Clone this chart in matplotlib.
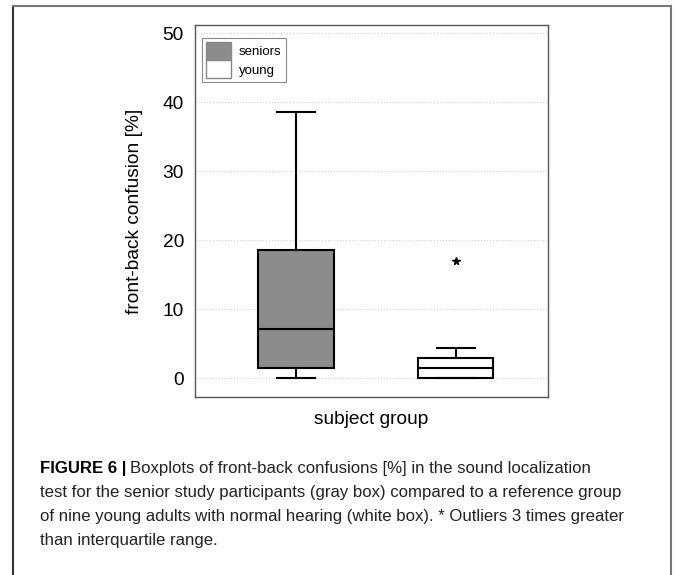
import matplotlib
matplotlib.use("Agg")
import matplotlib.pyplot as plt
from matplotlib.lines import Line2D
from matplotlib.patches import Patch

# Valores (confusiones delante-detras en %)
grupos = ["seniors", "young"]
minimo = [0.0, 0.0]
q1 = [1.5, 0.0]
mediana = [7.15, 1.45]
q3 = [18.55, 2.95]
maximo = [38.6, 4.35]
atipicos = [[], [17.0]]
colores = ["#8c8c8c", "white"]

yticks = [0, 10, 20, 30, 40, 50]
caption_lines = [
    "Boxplots of front-back confusions [%] in the sound localization",
    "test for the senior study participants (gray box) compared to a reference group",
    "of nine young adults with normal hearing (white box). * Outliers 3 times greater",
    "than interquartile range.",
]

plt.rcParams['font.family'] = ['Liberation Sans', 'DejaVu Sans']

fig = plt.figure(figsize=(6.75, 5.75), dpi=100)
ax = fig.add_axes([0.2889, 0.3096, 0.523, 0.647])

stats = []
for i in range(len(grupos)):
    stats.append({
        'label': grupos[i], 'whislo': minimo[i], 'q1': q1[i], 'med': mediana[i],
        'q3': q3[i], 'whishi': maximo[i], 'fliers': atipicos[i],
    })

bp = ax.bxp(stats, positions=[1, 2], widths=0.47, patch_artist=True,
            showfliers=True,
            boxprops=dict(linewidth=1.5, edgecolor='black'),
            medianprops=dict(color='black', linewidth=1.5),
            whiskerprops=dict(color='black', linewidth=1.5),
            capprops=dict(color='black', linewidth=1.5),
            capwidths=0.235,
            flierprops=dict(marker='*', markersize=5.5, markerfacecolor='black',
                            markeredgecolor='black'))
for caja, c in zip(bp['boxes'], colores):
    caja.set_facecolor(c)

ax.set_xlim(0.369, 2.576)
ax.set_ylim(-2.75, 51.2)
ax.set_yticks(yticks)
ax.set_xticks([])
ax.tick_params(axis='y', length=0, pad=8, labelsize=13.8)
ax.yaxis.grid(True, color='#d0d0d0', linestyle=':', linewidth=0.8)
ax.set_axisbelow(True)
for s in ax.spines.values():
    s.set_color('#555555')
    s.set_linewidth(1.0)

ax.set_ylabel("front-back confusion [%]", fontsize=13.8, labelpad=14)
ax.set_xlabel("subject group", fontsize=13.8, labelpad=10)

handles = [Patch(facecolor=colores[0], edgecolor='#888888', label=grupos[0]),
           Patch(facecolor=colores[1], edgecolor='#888888', label=grupos[1])]
leg = ax.legend(handles=handles, loc='upper left', fontsize=9.5, fancybox=False,
                framealpha=1, edgecolor='#888888', handlelength=1.9, handleheight=1.75,
                borderpad=0.3, labelspacing=0.0, handletextpad=0.6,
                bbox_to_anchor=(0.0198, 0.965), borderaxespad=0.0)
leg.get_frame().set_linewidth(0.8)

# Marco de la figura
fig.add_artist(Line2D([13 / 675, 13 / 675], [0, 1 - 6 / 575], transform=fig.transFigure,
                      color='#333333', linewidth=1.5))
fig.add_artist(Line2D([13 / 675, 671 / 675], [1 - 6 / 575, 1 - 6 / 575],
                      transform=fig.transFigure, color='#777777', linewidth=1.5))
fig.add_artist(Line2D([671 / 675, 671 / 675], [0, 1 - 6 / 575], transform=fig.transFigure,
                      color='#777777', linewidth=1.5))

# Leyenda de la figura (texto)
y0 = 1 - 468 / 575
dy = 24 / 575
t = fig.text(40 / 675, y0, "FIGURE 6 |", fontsize=12.1, fontweight='bold', va='center')
fig.canvas.draw()
bb = t.get_window_extent()
x1 = (bb.x1 + 4) / 675
fig.text(x1, y0, caption_lines[0], fontsize=12.1, va='center', color='#222222')
for k, linea in enumerate(caption_lines[1:], start=1):
    fig.text(40 / 675, y0 - k * dy, linea, fontsize=12.1, va='center', color='#222222')

fig.savefig("out.png", dpi=100)
